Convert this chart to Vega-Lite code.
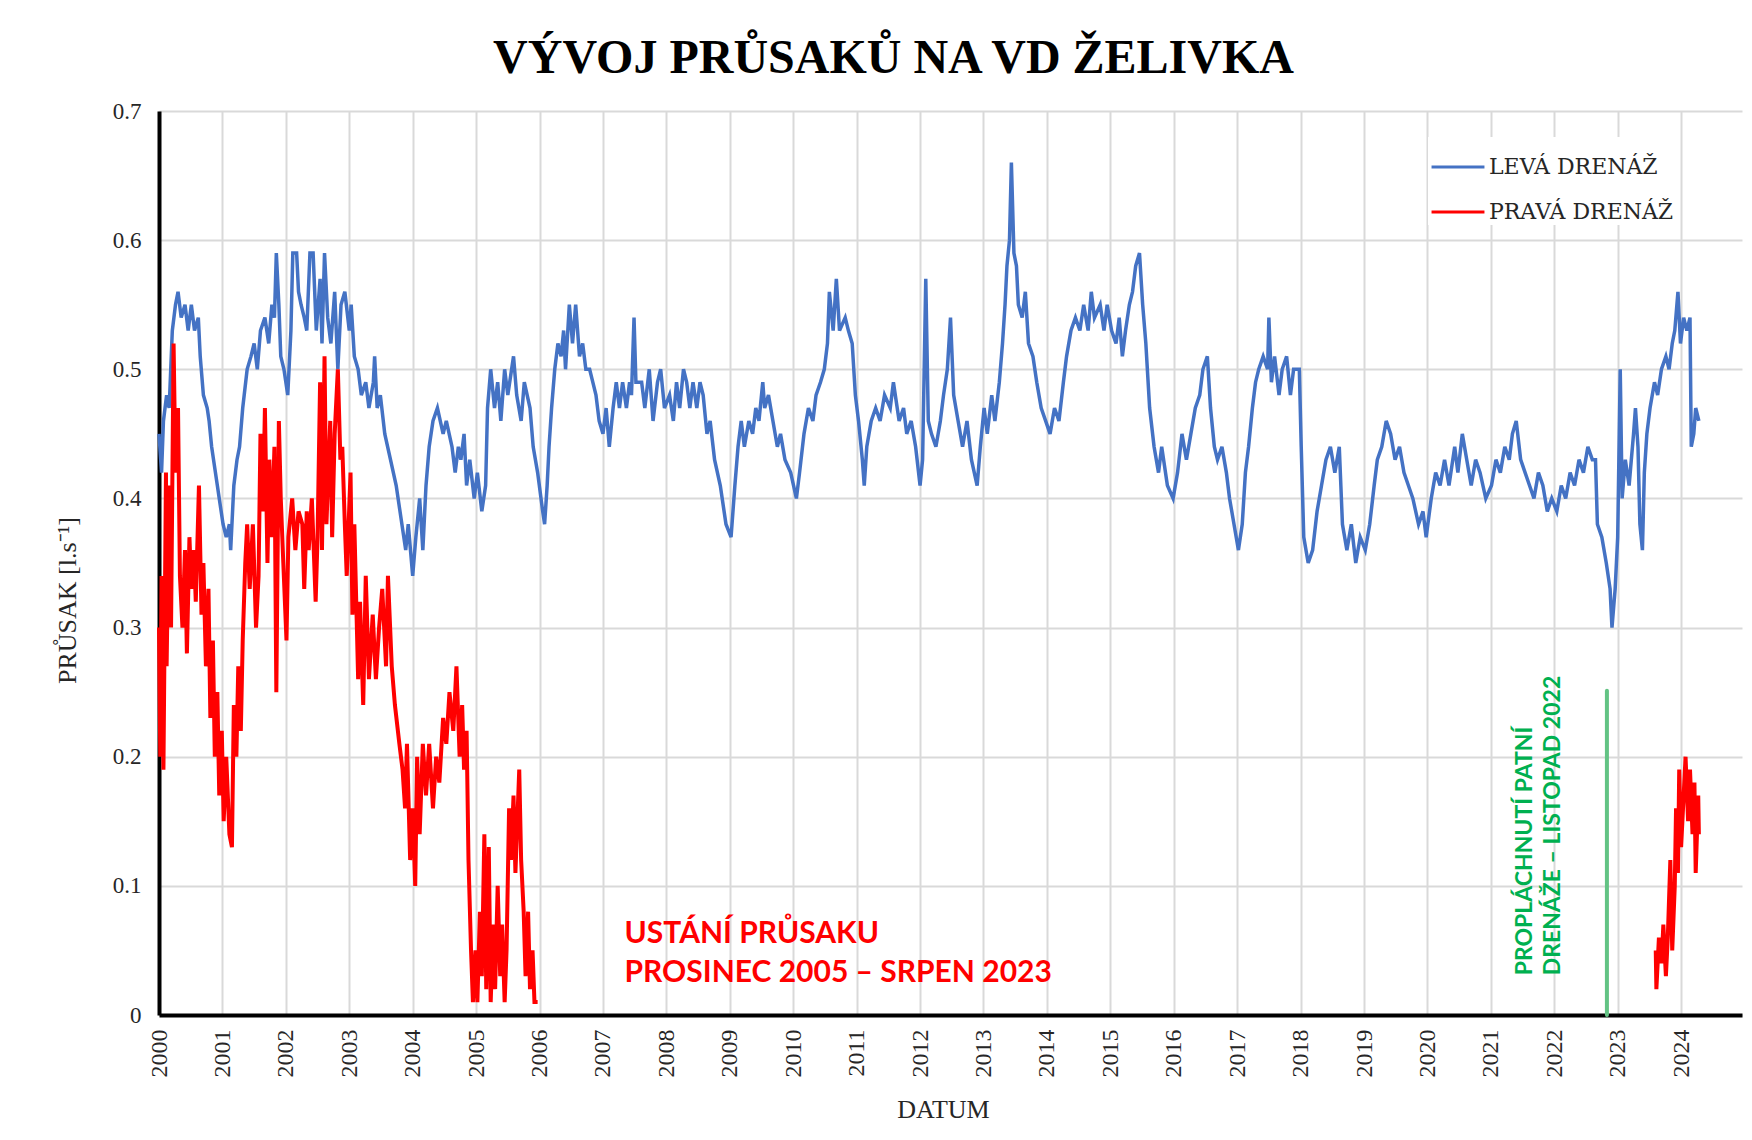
{
  "$schema": "https://vega.github.io/schema/vega-lite/v6.json",
  "autosize": {"type": "none"},
  "padding": {"left": 159, "top": 111, "right": 10, "bottom": 125},
  "width": 1583,
  "height": 904,
  "background": "white",
  "title": {
    "text": "VÝVOJ PRŮSAKŮ NA VD ŽELIVKA",
    "font": "Liberation Serif",
    "fontSize": 48,
    "fontWeight": "bold",
    "color": "#000000",
    "anchor": "middle",
    "frame": "group",
    "dx": -57,
    "offset": 17
  },
  "config": {
    "view": {"stroke": null},
    "axis": {
      "gridColor": "#d9d9d9",
      "gridWidth": 2,
      "domainColor": "#000000",
      "domainWidth": 4,
      "ticks": false,
      "labelFont": "Liberation Serif",
      "labelFontSize": 23,
      "labelColor": "#262626",
      "titleFont": "Liberation Serif",
      "titleFontSize": 26,
      "titleFontWeight": "normal",
      "titleColor": "#262626"
    }
  },
  "datasets": {
    "lev": [
      {"t":2000.00,"v":0.45,"s":"LEVÁ DRENÁŽ"},{"t":2000.04,"v":0.42,"s":"LEVÁ DRENÁŽ"},{"t":2000.07,"v":0.46,"s":"LEVÁ DRENÁŽ"},{"t":2000.12,"v":0.48,"s":"LEVÁ DRENÁŽ"},{"t":2000.16,"v":0.47,"s":"LEVÁ DRENÁŽ"},{"t":2000.21,"v":0.53,"s":"LEVÁ DRENÁŽ"},{"t":2000.26,"v":0.55,"s":"LEVÁ DRENÁŽ"},{"t":2000.30,"v":0.56,"s":"LEVÁ DRENÁŽ"},{"t":2000.35,"v":0.54,"s":"LEVÁ DRENÁŽ"},{"t":2000.41,"v":0.55,"s":"LEVÁ DRENÁŽ"},{"t":2000.46,"v":0.53,"s":"LEVÁ DRENÁŽ"},{"t":2000.51,"v":0.55,"s":"LEVÁ DRENÁŽ"},{"t":2000.56,"v":0.53,"s":"LEVÁ DRENÁŽ"},{"t":2000.62,"v":0.54,"s":"LEVÁ DRENÁŽ"},{"t":2000.65,"v":0.51,"s":"LEVÁ DRENÁŽ"},{"t":2000.70,"v":0.48,"s":"LEVÁ DRENÁŽ"},{"t":2000.76,"v":0.47,"s":"LEVÁ DRENÁŽ"},{"t":2000.79,"v":0.46,"s":"LEVÁ DRENÁŽ"},{"t":2000.83,"v":0.44,"s":"LEVÁ DRENÁŽ"},{"t":2000.86,"v":0.43,"s":"LEVÁ DRENÁŽ"},{"t":2000.92,"v":0.41,"s":"LEVÁ DRENÁŽ"},{"t":2000.95,"v":0.40,"s":"LEVÁ DRENÁŽ"},{"t":2001.01,"v":0.38,"s":"LEVÁ DRENÁŽ"},{"t":2001.06,"v":0.37,"s":"LEVÁ DRENÁŽ"},{"t":2001.11,"v":0.38,"s":"LEVÁ DRENÁŽ"},{"t":2001.13,"v":0.36,"s":"LEVÁ DRENÁŽ"},{"t":2001.18,"v":0.41,"s":"LEVÁ DRENÁŽ"},{"t":2001.23,"v":0.43,"s":"LEVÁ DRENÁŽ"},{"t":2001.27,"v":0.44,"s":"LEVÁ DRENÁŽ"},{"t":2001.32,"v":0.47,"s":"LEVÁ DRENÁŽ"},{"t":2001.39,"v":0.50,"s":"LEVÁ DRENÁŽ"},{"t":2001.45,"v":0.51,"s":"LEVÁ DRENÁŽ"},{"t":2001.50,"v":0.52,"s":"LEVÁ DRENÁŽ"},{"t":2001.55,"v":0.50,"s":"LEVÁ DRENÁŽ"},{"t":2001.60,"v":0.53,"s":"LEVÁ DRENÁŽ"},{"t":2001.67,"v":0.54,"s":"LEVÁ DRENÁŽ"},{"t":2001.73,"v":0.52,"s":"LEVÁ DRENÁŽ"},{"t":2001.78,"v":0.55,"s":"LEVÁ DRENÁŽ"},{"t":2001.82,"v":0.54,"s":"LEVÁ DRENÁŽ"},{"t":2001.85,"v":0.59,"s":"LEVÁ DRENÁŽ"},{"t":2001.89,"v":0.55,"s":"LEVÁ DRENÁŽ"},{"t":2001.92,"v":0.51,"s":"LEVÁ DRENÁŽ"},{"t":2001.97,"v":0.50,"s":"LEVÁ DRENÁŽ"},{"t":2002.03,"v":0.48,"s":"LEVÁ DRENÁŽ"},{"t":2002.08,"v":0.53,"s":"LEVÁ DRENÁŽ"},{"t":2002.11,"v":0.59,"s":"LEVÁ DRENÁŽ"},{"t":2002.17,"v":0.59,"s":"LEVÁ DRENÁŽ"},{"t":2002.20,"v":0.56,"s":"LEVÁ DRENÁŽ"},{"t":2002.24,"v":0.55,"s":"LEVÁ DRENÁŽ"},{"t":2002.29,"v":0.54,"s":"LEVÁ DRENÁŽ"},{"t":2002.33,"v":0.53,"s":"LEVÁ DRENÁŽ"},{"t":2002.38,"v":0.59,"s":"LEVÁ DRENÁŽ"},{"t":2002.43,"v":0.59,"s":"LEVÁ DRENÁŽ"},{"t":2002.48,"v":0.53,"s":"LEVÁ DRENÁŽ"},{"t":2002.54,"v":0.57,"s":"LEVÁ DRENÁŽ"},{"t":2002.57,"v":0.52,"s":"LEVÁ DRENÁŽ"},{"t":2002.61,"v":0.59,"s":"LEVÁ DRENÁŽ"},{"t":2002.66,"v":0.54,"s":"LEVÁ DRENÁŽ"},{"t":2002.71,"v":0.52,"s":"LEVÁ DRENÁŽ"},{"t":2002.77,"v":0.56,"s":"LEVÁ DRENÁŽ"},{"t":2002.82,"v":0.50,"s":"LEVÁ DRENÁŽ"},{"t":2002.87,"v":0.55,"s":"LEVÁ DRENÁŽ"},{"t":2002.93,"v":0.56,"s":"LEVÁ DRENÁŽ"},{"t":2003.00,"v":0.53,"s":"LEVÁ DRENÁŽ"},{"t":2003.03,"v":0.55,"s":"LEVÁ DRENÁŽ"},{"t":2003.08,"v":0.51,"s":"LEVÁ DRENÁŽ"},{"t":2003.14,"v":0.50,"s":"LEVÁ DRENÁŽ"},{"t":2003.19,"v":0.48,"s":"LEVÁ DRENÁŽ"},{"t":2003.26,"v":0.49,"s":"LEVÁ DRENÁŽ"},{"t":2003.31,"v":0.47,"s":"LEVÁ DRENÁŽ"},{"t":2003.38,"v":0.49,"s":"LEVÁ DRENÁŽ"},{"t":2003.40,"v":0.51,"s":"LEVÁ DRENÁŽ"},{"t":2003.44,"v":0.47,"s":"LEVÁ DRENÁŽ"},{"t":2003.49,"v":0.48,"s":"LEVÁ DRENÁŽ"},{"t":2003.56,"v":0.45,"s":"LEVÁ DRENÁŽ"},{"t":2003.65,"v":0.43,"s":"LEVÁ DRENÁŽ"},{"t":2003.74,"v":0.41,"s":"LEVÁ DRENÁŽ"},{"t":2003.83,"v":0.38,"s":"LEVÁ DRENÁŽ"},{"t":2003.89,"v":0.36,"s":"LEVÁ DRENÁŽ"},{"t":2003.93,"v":0.38,"s":"LEVÁ DRENÁŽ"},{"t":2004.00,"v":0.34,"s":"LEVÁ DRENÁŽ"},{"t":2004.05,"v":0.37,"s":"LEVÁ DRENÁŽ"},{"t":2004.11,"v":0.40,"s":"LEVÁ DRENÁŽ"},{"t":2004.16,"v":0.36,"s":"LEVÁ DRENÁŽ"},{"t":2004.21,"v":0.41,"s":"LEVÁ DRENÁŽ"},{"t":2004.26,"v":0.44,"s":"LEVÁ DRENÁŽ"},{"t":2004.32,"v":0.46,"s":"LEVÁ DRENÁŽ"},{"t":2004.39,"v":0.47,"s":"LEVÁ DRENÁŽ"},{"t":2004.48,"v":0.45,"s":"LEVÁ DRENÁŽ"},{"t":2004.53,"v":0.46,"s":"LEVÁ DRENÁŽ"},{"t":2004.62,"v":0.44,"s":"LEVÁ DRENÁŽ"},{"t":2004.67,"v":0.42,"s":"LEVÁ DRENÁŽ"},{"t":2004.72,"v":0.44,"s":"LEVÁ DRENÁŽ"},{"t":2004.76,"v":0.43,"s":"LEVÁ DRENÁŽ"},{"t":2004.81,"v":0.45,"s":"LEVÁ DRENÁŽ"},{"t":2004.85,"v":0.41,"s":"LEVÁ DRENÁŽ"},{"t":2004.90,"v":0.43,"s":"LEVÁ DRENÁŽ"},{"t":2004.97,"v":0.40,"s":"LEVÁ DRENÁŽ"},{"t":2005.02,"v":0.42,"s":"LEVÁ DRENÁŽ"},{"t":2005.09,"v":0.39,"s":"LEVÁ DRENÁŽ"},{"t":2005.15,"v":0.41,"s":"LEVÁ DRENÁŽ"},{"t":2005.18,"v":0.47,"s":"LEVÁ DRENÁŽ"},{"t":2005.23,"v":0.50,"s":"LEVÁ DRENÁŽ"},{"t":2005.29,"v":0.47,"s":"LEVÁ DRENÁŽ"},{"t":2005.34,"v":0.49,"s":"LEVÁ DRENÁŽ"},{"t":2005.39,"v":0.46,"s":"LEVÁ DRENÁŽ"},{"t":2005.45,"v":0.50,"s":"LEVÁ DRENÁŽ"},{"t":2005.50,"v":0.48,"s":"LEVÁ DRENÁŽ"},{"t":2005.59,"v":0.51,"s":"LEVÁ DRENÁŽ"},{"t":2005.64,"v":0.48,"s":"LEVÁ DRENÁŽ"},{"t":2005.71,"v":0.46,"s":"LEVÁ DRENÁŽ"},{"t":2005.76,"v":0.49,"s":"LEVÁ DRENÁŽ"},{"t":2005.85,"v":0.47,"s":"LEVÁ DRENÁŽ"},{"t":2005.90,"v":0.44,"s":"LEVÁ DRENÁŽ"},{"t":2005.97,"v":0.42,"s":"LEVÁ DRENÁŽ"},{"t":2006.05,"v":0.39,"s":"LEVÁ DRENÁŽ"},{"t":2006.08,"v":0.38,"s":"LEVÁ DRENÁŽ"},{"t":2006.12,"v":0.41,"s":"LEVÁ DRENÁŽ"},{"t":2006.15,"v":0.44,"s":"LEVÁ DRENÁŽ"},{"t":2006.19,"v":0.47,"s":"LEVÁ DRENÁŽ"},{"t":2006.24,"v":0.50,"s":"LEVÁ DRENÁŽ"},{"t":2006.29,"v":0.52,"s":"LEVÁ DRENÁŽ"},{"t":2006.34,"v":0.51,"s":"LEVÁ DRENÁŽ"},{"t":2006.38,"v":0.53,"s":"LEVÁ DRENÁŽ"},{"t":2006.41,"v":0.50,"s":"LEVÁ DRENÁŽ"},{"t":2006.47,"v":0.55,"s":"LEVÁ DRENÁŽ"},{"t":2006.52,"v":0.52,"s":"LEVÁ DRENÁŽ"},{"t":2006.57,"v":0.55,"s":"LEVÁ DRENÁŽ"},{"t":2006.63,"v":0.51,"s":"LEVÁ DRENÁŽ"},{"t":2006.68,"v":0.52,"s":"LEVÁ DRENÁŽ"},{"t":2006.73,"v":0.50,"s":"LEVÁ DRENÁŽ"},{"t":2006.79,"v":0.50,"s":"LEVÁ DRENÁŽ"},{"t":2006.84,"v":0.49,"s":"LEVÁ DRENÁŽ"},{"t":2006.89,"v":0.48,"s":"LEVÁ DRENÁŽ"},{"t":2006.94,"v":0.46,"s":"LEVÁ DRENÁŽ"},{"t":2007.00,"v":0.45,"s":"LEVÁ DRENÁŽ"},{"t":2007.05,"v":0.47,"s":"LEVÁ DRENÁŽ"},{"t":2007.10,"v":0.44,"s":"LEVÁ DRENÁŽ"},{"t":2007.16,"v":0.47,"s":"LEVÁ DRENÁŽ"},{"t":2007.21,"v":0.49,"s":"LEVÁ DRENÁŽ"},{"t":2007.26,"v":0.47,"s":"LEVÁ DRENÁŽ"},{"t":2007.31,"v":0.49,"s":"LEVÁ DRENÁŽ"},{"t":2007.37,"v":0.47,"s":"LEVÁ DRENÁŽ"},{"t":2007.42,"v":0.49,"s":"LEVÁ DRENÁŽ"},{"t":2007.45,"v":0.48,"s":"LEVÁ DRENÁŽ"},{"t":2007.49,"v":0.54,"s":"LEVÁ DRENÁŽ"},{"t":2007.52,"v":0.49,"s":"LEVÁ DRENÁŽ"},{"t":2007.61,"v":0.49,"s":"LEVÁ DRENÁŽ"},{"t":2007.66,"v":0.47,"s":"LEVÁ DRENÁŽ"},{"t":2007.73,"v":0.50,"s":"LEVÁ DRENÁŽ"},{"t":2007.79,"v":0.46,"s":"LEVÁ DRENÁŽ"},{"t":2007.86,"v":0.49,"s":"LEVÁ DRENÁŽ"},{"t":2007.91,"v":0.50,"s":"LEVÁ DRENÁŽ"},{"t":2007.97,"v":0.47,"s":"LEVÁ DRENÁŽ"},{"t":2008.05,"v":0.48,"s":"LEVÁ DRENÁŽ"},{"t":2008.11,"v":0.46,"s":"LEVÁ DRENÁŽ"},{"t":2008.16,"v":0.49,"s":"LEVÁ DRENÁŽ"},{"t":2008.21,"v":0.47,"s":"LEVÁ DRENÁŽ"},{"t":2008.27,"v":0.50,"s":"LEVÁ DRENÁŽ"},{"t":2008.32,"v":0.49,"s":"LEVÁ DRENÁŽ"},{"t":2008.37,"v":0.47,"s":"LEVÁ DRENÁŽ"},{"t":2008.42,"v":0.49,"s":"LEVÁ DRENÁŽ"},{"t":2008.48,"v":0.47,"s":"LEVÁ DRENÁŽ"},{"t":2008.53,"v":0.49,"s":"LEVÁ DRENÁŽ"},{"t":2008.58,"v":0.48,"s":"LEVÁ DRENÁŽ"},{"t":2008.64,"v":0.45,"s":"LEVÁ DRENÁŽ"},{"t":2008.69,"v":0.46,"s":"LEVÁ DRENÁŽ"},{"t":2008.76,"v":0.43,"s":"LEVÁ DRENÁŽ"},{"t":2008.85,"v":0.41,"s":"LEVÁ DRENÁŽ"},{"t":2008.94,"v":0.38,"s":"LEVÁ DRENÁŽ"},{"t":2009.02,"v":0.37,"s":"LEVÁ DRENÁŽ"},{"t":2009.08,"v":0.41,"s":"LEVÁ DRENÁŽ"},{"t":2009.13,"v":0.44,"s":"LEVÁ DRENÁŽ"},{"t":2009.18,"v":0.46,"s":"LEVÁ DRENÁŽ"},{"t":2009.23,"v":0.44,"s":"LEVÁ DRENÁŽ"},{"t":2009.30,"v":0.46,"s":"LEVÁ DRENÁŽ"},{"t":2009.36,"v":0.45,"s":"LEVÁ DRENÁŽ"},{"t":2009.41,"v":0.47,"s":"LEVÁ DRENÁŽ"},{"t":2009.46,"v":0.46,"s":"LEVÁ DRENÁŽ"},{"t":2009.52,"v":0.49,"s":"LEVÁ DRENÁŽ"},{"t":2009.55,"v":0.47,"s":"LEVÁ DRENÁŽ"},{"t":2009.61,"v":0.48,"s":"LEVÁ DRENÁŽ"},{"t":2009.68,"v":0.46,"s":"LEVÁ DRENÁŽ"},{"t":2009.75,"v":0.44,"s":"LEVÁ DRENÁŽ"},{"t":2009.80,"v":0.45,"s":"LEVÁ DRENÁŽ"},{"t":2009.87,"v":0.43,"s":"LEVÁ DRENÁŽ"},{"t":2009.96,"v":0.42,"s":"LEVÁ DRENÁŽ"},{"t":2010.05,"v":0.40,"s":"LEVÁ DRENÁŽ"},{"t":2010.10,"v":0.42,"s":"LEVÁ DRENÁŽ"},{"t":2010.17,"v":0.45,"s":"LEVÁ DRENÁŽ"},{"t":2010.24,"v":0.47,"s":"LEVÁ DRENÁŽ"},{"t":2010.31,"v":0.46,"s":"LEVÁ DRENÁŽ"},{"t":2010.36,"v":0.48,"s":"LEVÁ DRENÁŽ"},{"t":2010.43,"v":0.49,"s":"LEVÁ DRENÁŽ"},{"t":2010.49,"v":0.50,"s":"LEVÁ DRENÁŽ"},{"t":2010.54,"v":0.52,"s":"LEVÁ DRENÁŽ"},{"t":2010.57,"v":0.56,"s":"LEVÁ DRENÁŽ"},{"t":2010.63,"v":0.53,"s":"LEVÁ DRENÁŽ"},{"t":2010.68,"v":0.57,"s":"LEVÁ DRENÁŽ"},{"t":2010.73,"v":0.53,"s":"LEVÁ DRENÁŽ"},{"t":2010.82,"v":0.54,"s":"LEVÁ DRENÁŽ"},{"t":2010.87,"v":0.53,"s":"LEVÁ DRENÁŽ"},{"t":2010.93,"v":0.52,"s":"LEVÁ DRENÁŽ"},{"t":2010.98,"v":0.48,"s":"LEVÁ DRENÁŽ"},{"t":2011.03,"v":0.46,"s":"LEVÁ DRENÁŽ"},{"t":2011.09,"v":0.43,"s":"LEVÁ DRENÁŽ"},{"t":2011.12,"v":0.41,"s":"LEVÁ DRENÁŽ"},{"t":2011.16,"v":0.44,"s":"LEVÁ DRENÁŽ"},{"t":2011.23,"v":0.46,"s":"LEVÁ DRENÁŽ"},{"t":2011.30,"v":0.47,"s":"LEVÁ DRENÁŽ"},{"t":2011.37,"v":0.46,"s":"LEVÁ DRENÁŽ"},{"t":2011.44,"v":0.48,"s":"LEVÁ DRENÁŽ"},{"t":2011.53,"v":0.47,"s":"LEVÁ DRENÁŽ"},{"t":2011.58,"v":0.49,"s":"LEVÁ DRENÁŽ"},{"t":2011.67,"v":0.46,"s":"LEVÁ DRENÁŽ"},{"t":2011.74,"v":0.47,"s":"LEVÁ DRENÁŽ"},{"t":2011.79,"v":0.45,"s":"LEVÁ DRENÁŽ"},{"t":2011.86,"v":0.46,"s":"LEVÁ DRENÁŽ"},{"t":2011.93,"v":0.44,"s":"LEVÁ DRENÁŽ"},{"t":2012.00,"v":0.41,"s":"LEVÁ DRENÁŽ"},{"t":2012.04,"v":0.43,"s":"LEVÁ DRENÁŽ"},{"t":2012.09,"v":0.57,"s":"LEVÁ DRENÁŽ"},{"t":2012.13,"v":0.46,"s":"LEVÁ DRENÁŽ"},{"t":2012.18,"v":0.45,"s":"LEVÁ DRENÁŽ"},{"t":2012.25,"v":0.44,"s":"LEVÁ DRENÁŽ"},{"t":2012.32,"v":0.46,"s":"LEVÁ DRENÁŽ"},{"t":2012.37,"v":0.48,"s":"LEVÁ DRENÁŽ"},{"t":2012.43,"v":0.50,"s":"LEVÁ DRENÁŽ"},{"t":2012.48,"v":0.54,"s":"LEVÁ DRENÁŽ"},{"t":2012.53,"v":0.48,"s":"LEVÁ DRENÁŽ"},{"t":2012.60,"v":0.46,"s":"LEVÁ DRENÁŽ"},{"t":2012.67,"v":0.44,"s":"LEVÁ DRENÁŽ"},{"t":2012.74,"v":0.46,"s":"LEVÁ DRENÁŽ"},{"t":2012.81,"v":0.43,"s":"LEVÁ DRENÁŽ"},{"t":2012.90,"v":0.41,"s":"LEVÁ DRENÁŽ"},{"t":2012.95,"v":0.44,"s":"LEVÁ DRENÁŽ"},{"t":2013.01,"v":0.47,"s":"LEVÁ DRENÁŽ"},{"t":2013.06,"v":0.45,"s":"LEVÁ DRENÁŽ"},{"t":2013.13,"v":0.48,"s":"LEVÁ DRENÁŽ"},{"t":2013.18,"v":0.46,"s":"LEVÁ DRENÁŽ"},{"t":2013.25,"v":0.49,"s":"LEVÁ DRENÁŽ"},{"t":2013.30,"v":0.52,"s":"LEVÁ DRENÁŽ"},{"t":2013.34,"v":0.55,"s":"LEVÁ DRENÁŽ"},{"t":2013.37,"v":0.58,"s":"LEVÁ DRENÁŽ"},{"t":2013.41,"v":0.60,"s":"LEVÁ DRENÁŽ"},{"t":2013.44,"v":0.66,"s":"LEVÁ DRENÁŽ"},{"t":2013.48,"v":0.59,"s":"LEVÁ DRENÁŽ"},{"t":2013.52,"v":0.58,"s":"LEVÁ DRENÁŽ"},{"t":2013.55,"v":0.55,"s":"LEVÁ DRENÁŽ"},{"t":2013.61,"v":0.54,"s":"LEVÁ DRENÁŽ"},{"t":2013.66,"v":0.56,"s":"LEVÁ DRENÁŽ"},{"t":2013.71,"v":0.52,"s":"LEVÁ DRENÁŽ"},{"t":2013.78,"v":0.51,"s":"LEVÁ DRENÁŽ"},{"t":2013.84,"v":0.49,"s":"LEVÁ DRENÁŽ"},{"t":2013.91,"v":0.47,"s":"LEVÁ DRENÁŽ"},{"t":2013.98,"v":0.46,"s":"LEVÁ DRENÁŽ"},{"t":2014.05,"v":0.45,"s":"LEVÁ DRENÁŽ"},{"t":2014.12,"v":0.47,"s":"LEVÁ DRENÁŽ"},{"t":2014.19,"v":0.46,"s":"LEVÁ DRENÁŽ"},{"t":2014.26,"v":0.49,"s":"LEVÁ DRENÁŽ"},{"t":2014.31,"v":0.51,"s":"LEVÁ DRENÁŽ"},{"t":2014.38,"v":0.53,"s":"LEVÁ DRENÁŽ"},{"t":2014.45,"v":0.54,"s":"LEVÁ DRENÁŽ"},{"t":2014.52,"v":0.53,"s":"LEVÁ DRENÁŽ"},{"t":2014.58,"v":0.55,"s":"LEVÁ DRENÁŽ"},{"t":2014.65,"v":0.53,"s":"LEVÁ DRENÁŽ"},{"t":2014.70,"v":0.56,"s":"LEVÁ DRENÁŽ"},{"t":2014.75,"v":0.54,"s":"LEVÁ DRENÁŽ"},{"t":2014.84,"v":0.55,"s":"LEVÁ DRENÁŽ"},{"t":2014.90,"v":0.53,"s":"LEVÁ DRENÁŽ"},{"t":2014.95,"v":0.55,"s":"LEVÁ DRENÁŽ"},{"t":2015.02,"v":0.53,"s":"LEVÁ DRENÁŽ"},{"t":2015.09,"v":0.52,"s":"LEVÁ DRENÁŽ"},{"t":2015.14,"v":0.54,"s":"LEVÁ DRENÁŽ"},{"t":2015.19,"v":0.51,"s":"LEVÁ DRENÁŽ"},{"t":2015.24,"v":0.53,"s":"LEVÁ DRENÁŽ"},{"t":2015.30,"v":0.55,"s":"LEVÁ DRENÁŽ"},{"t":2015.35,"v":0.56,"s":"LEVÁ DRENÁŽ"},{"t":2015.40,"v":0.58,"s":"LEVÁ DRENÁŽ"},{"t":2015.46,"v":0.59,"s":"LEVÁ DRENÁŽ"},{"t":2015.51,"v":0.55,"s":"LEVÁ DRENÁŽ"},{"t":2015.56,"v":0.52,"s":"LEVÁ DRENÁŽ"},{"t":2015.62,"v":0.47,"s":"LEVÁ DRENÁŽ"},{"t":2015.69,"v":0.44,"s":"LEVÁ DRENÁŽ"},{"t":2015.76,"v":0.42,"s":"LEVÁ DRENÁŽ"},{"t":2015.81,"v":0.44,"s":"LEVÁ DRENÁŽ"},{"t":2015.90,"v":0.41,"s":"LEVÁ DRENÁŽ"},{"t":2015.99,"v":0.40,"s":"LEVÁ DRENÁŽ"},{"t":2016.06,"v":0.42,"s":"LEVÁ DRENÁŽ"},{"t":2016.13,"v":0.45,"s":"LEVÁ DRENÁŽ"},{"t":2016.20,"v":0.43,"s":"LEVÁ DRENÁŽ"},{"t":2016.27,"v":0.45,"s":"LEVÁ DRENÁŽ"},{"t":2016.34,"v":0.47,"s":"LEVÁ DRENÁŽ"},{"t":2016.41,"v":0.48,"s":"LEVÁ DRENÁŽ"},{"t":2016.46,"v":0.50,"s":"LEVÁ DRENÁŽ"},{"t":2016.53,"v":0.51,"s":"LEVÁ DRENÁŽ"},{"t":2016.58,"v":0.47,"s":"LEVÁ DRENÁŽ"},{"t":2016.64,"v":0.44,"s":"LEVÁ DRENÁŽ"},{"t":2016.69,"v":0.43,"s":"LEVÁ DRENÁŽ"},{"t":2016.76,"v":0.44,"s":"LEVÁ DRENÁŽ"},{"t":2016.83,"v":0.42,"s":"LEVÁ DRENÁŽ"},{"t":2016.88,"v":0.40,"s":"LEVÁ DRENÁŽ"},{"t":2016.95,"v":0.38,"s":"LEVÁ DRENÁŽ"},{"t":2017.02,"v":0.36,"s":"LEVÁ DRENÁŽ"},{"t":2017.08,"v":0.38,"s":"LEVÁ DRENÁŽ"},{"t":2017.13,"v":0.42,"s":"LEVÁ DRENÁŽ"},{"t":2017.18,"v":0.44,"s":"LEVÁ DRENÁŽ"},{"t":2017.24,"v":0.47,"s":"LEVÁ DRENÁŽ"},{"t":2017.29,"v":0.49,"s":"LEVÁ DRENÁŽ"},{"t":2017.34,"v":0.50,"s":"LEVÁ DRENÁŽ"},{"t":2017.41,"v":0.51,"s":"LEVÁ DRENÁŽ"},{"t":2017.48,"v":0.50,"s":"LEVÁ DRENÁŽ"},{"t":2017.50,"v":0.54,"s":"LEVÁ DRENÁŽ"},{"t":2017.54,"v":0.49,"s":"LEVÁ DRENÁŽ"},{"t":2017.59,"v":0.51,"s":"LEVÁ DRENÁŽ"},{"t":2017.66,"v":0.48,"s":"LEVÁ DRENÁŽ"},{"t":2017.71,"v":0.50,"s":"LEVÁ DRENÁŽ"},{"t":2017.78,"v":0.51,"s":"LEVÁ DRENÁŽ"},{"t":2017.84,"v":0.48,"s":"LEVÁ DRENÁŽ"},{"t":2017.89,"v":0.50,"s":"LEVÁ DRENÁŽ"},{"t":2017.98,"v":0.50,"s":"LEVÁ DRENÁŽ"},{"t":2018.01,"v":0.44,"s":"LEVÁ DRENÁŽ"},{"t":2018.05,"v":0.37,"s":"LEVÁ DRENÁŽ"},{"t":2018.12,"v":0.35,"s":"LEVÁ DRENÁŽ"},{"t":2018.19,"v":0.36,"s":"LEVÁ DRENÁŽ"},{"t":2018.26,"v":0.39,"s":"LEVÁ DRENÁŽ"},{"t":2018.33,"v":0.41,"s":"LEVÁ DRENÁŽ"},{"t":2018.40,"v":0.43,"s":"LEVÁ DRENÁŽ"},{"t":2018.47,"v":0.44,"s":"LEVÁ DRENÁŽ"},{"t":2018.54,"v":0.42,"s":"LEVÁ DRENÁŽ"},{"t":2018.61,"v":0.44,"s":"LEVÁ DRENÁŽ"},{"t":2018.66,"v":0.38,"s":"LEVÁ DRENÁŽ"},{"t":2018.73,"v":0.36,"s":"LEVÁ DRENÁŽ"},{"t":2018.80,"v":0.38,"s":"LEVÁ DRENÁŽ"},{"t":2018.87,"v":0.35,"s":"LEVÁ DRENÁŽ"},{"t":2018.94,"v":0.37,"s":"LEVÁ DRENÁŽ"},{"t":2019.02,"v":0.36,"s":"LEVÁ DRENÁŽ"},{"t":2019.09,"v":0.38,"s":"LEVÁ DRENÁŽ"},{"t":2019.16,"v":0.41,"s":"LEVÁ DRENÁŽ"},{"t":2019.21,"v":0.43,"s":"LEVÁ DRENÁŽ"},{"t":2019.28,"v":0.44,"s":"LEVÁ DRENÁŽ"},{"t":2019.35,"v":0.46,"s":"LEVÁ DRENÁŽ"},{"t":2019.42,"v":0.45,"s":"LEVÁ DRENÁŽ"},{"t":2019.49,"v":0.43,"s":"LEVÁ DRENÁŽ"},{"t":2019.56,"v":0.44,"s":"LEVÁ DRENÁŽ"},{"t":2019.63,"v":0.42,"s":"LEVÁ DRENÁŽ"},{"t":2019.70,"v":0.41,"s":"LEVÁ DRENÁŽ"},{"t":2019.77,"v":0.40,"s":"LEVÁ DRENÁŽ"},{"t":2019.86,"v":0.38,"s":"LEVÁ DRENÁŽ"},{"t":2019.93,"v":0.39,"s":"LEVÁ DRENÁŽ"},{"t":2019.98,"v":0.37,"s":"LEVÁ DRENÁŽ"},{"t":2020.06,"v":0.40,"s":"LEVÁ DRENÁŽ"},{"t":2020.13,"v":0.42,"s":"LEVÁ DRENÁŽ"},{"t":2020.20,"v":0.41,"s":"LEVÁ DRENÁŽ"},{"t":2020.27,"v":0.43,"s":"LEVÁ DRENÁŽ"},{"t":2020.34,"v":0.41,"s":"LEVÁ DRENÁŽ"},{"t":2020.43,"v":0.44,"s":"LEVÁ DRENÁŽ"},{"t":2020.48,"v":0.42,"s":"LEVÁ DRENÁŽ"},{"t":2020.55,"v":0.45,"s":"LEVÁ DRENÁŽ"},{"t":2020.62,"v":0.43,"s":"LEVÁ DRENÁŽ"},{"t":2020.69,"v":0.41,"s":"LEVÁ DRENÁŽ"},{"t":2020.76,"v":0.43,"s":"LEVÁ DRENÁŽ"},{"t":2020.83,"v":0.42,"s":"LEVÁ DRENÁŽ"},{"t":2020.92,"v":0.40,"s":"LEVÁ DRENÁŽ"},{"t":2021.01,"v":0.41,"s":"LEVÁ DRENÁŽ"},{"t":2021.08,"v":0.43,"s":"LEVÁ DRENÁŽ"},{"t":2021.15,"v":0.42,"s":"LEVÁ DRENÁŽ"},{"t":2021.22,"v":0.44,"s":"LEVÁ DRENÁŽ"},{"t":2021.29,"v":0.43,"s":"LEVÁ DRENÁŽ"},{"t":2021.34,"v":0.45,"s":"LEVÁ DRENÁŽ"},{"t":2021.40,"v":0.46,"s":"LEVÁ DRENÁŽ"},{"t":2021.47,"v":0.43,"s":"LEVÁ DRENÁŽ"},{"t":2021.54,"v":0.42,"s":"LEVÁ DRENÁŽ"},{"t":2021.61,"v":0.41,"s":"LEVÁ DRENÁŽ"},{"t":2021.68,"v":0.40,"s":"LEVÁ DRENÁŽ"},{"t":2021.75,"v":0.42,"s":"LEVÁ DRENÁŽ"},{"t":2021.82,"v":0.41,"s":"LEVÁ DRENÁŽ"},{"t":2021.89,"v":0.39,"s":"LEVÁ DRENÁŽ"},{"t":2021.96,"v":0.40,"s":"LEVÁ DRENÁŽ"},{"t":2022.04,"v":0.39,"s":"LEVÁ DRENÁŽ"},{"t":2022.11,"v":0.41,"s":"LEVÁ DRENÁŽ"},{"t":2022.18,"v":0.40,"s":"LEVÁ DRENÁŽ"},{"t":2022.25,"v":0.42,"s":"LEVÁ DRENÁŽ"},{"t":2022.32,"v":0.41,"s":"LEVÁ DRENÁŽ"},{"t":2022.39,"v":0.43,"s":"LEVÁ DRENÁŽ"},{"t":2022.46,"v":0.42,"s":"LEVÁ DRENÁŽ"},{"t":2022.53,"v":0.44,"s":"LEVÁ DRENÁŽ"},{"t":2022.60,"v":0.43,"s":"LEVÁ DRENÁŽ"},{"t":2022.65,"v":0.43,"s":"LEVÁ DRENÁŽ"},{"t":2022.68,"v":0.38,"s":"LEVÁ DRENÁŽ"},{"t":2022.75,"v":0.37,"s":"LEVÁ DRENÁŽ"},{"t":2022.82,"v":0.35,"s":"LEVÁ DRENÁŽ"},{"t":2022.88,"v":0.33,"s":"LEVÁ DRENÁŽ"},{"t":2022.91,"v":0.30,"s":"LEVÁ DRENÁŽ"},{"t":2022.96,"v":0.33,"s":"LEVÁ DRENÁŽ"},{"t":2023.00,"v":0.37,"s":"LEVÁ DRENÁŽ"},{"t":2023.04,"v":0.50,"s":"LEVÁ DRENÁŽ"},{"t":2023.07,"v":0.40,"s":"LEVÁ DRENÁŽ"},{"t":2023.12,"v":0.43,"s":"LEVÁ DRENÁŽ"},{"t":2023.18,"v":0.41,"s":"LEVÁ DRENÁŽ"},{"t":2023.25,"v":0.45,"s":"LEVÁ DRENÁŽ"},{"t":2023.28,"v":0.47,"s":"LEVÁ DRENÁŽ"},{"t":2023.32,"v":0.44,"s":"LEVÁ DRENÁŽ"},{"t":2023.35,"v":0.38,"s":"LEVÁ DRENÁŽ"},{"t":2023.39,"v":0.36,"s":"LEVÁ DRENÁŽ"},{"t":2023.42,"v":0.42,"s":"LEVÁ DRENÁŽ"},{"t":2023.46,"v":0.45,"s":"LEVÁ DRENÁŽ"},{"t":2023.51,"v":0.47,"s":"LEVÁ DRENÁŽ"},{"t":2023.58,"v":0.49,"s":"LEVÁ DRENÁŽ"},{"t":2023.63,"v":0.48,"s":"LEVÁ DRENÁŽ"},{"t":2023.69,"v":0.50,"s":"LEVÁ DRENÁŽ"},{"t":2023.76,"v":0.51,"s":"LEVÁ DRENÁŽ"},{"t":2023.81,"v":0.50,"s":"LEVÁ DRENÁŽ"},{"t":2023.86,"v":0.52,"s":"LEVÁ DRENÁŽ"},{"t":2023.90,"v":0.53,"s":"LEVÁ DRENÁŽ"},{"t":2023.95,"v":0.56,"s":"LEVÁ DRENÁŽ"},{"t":2023.99,"v":0.52,"s":"LEVÁ DRENÁŽ"},{"t":2024.04,"v":0.54,"s":"LEVÁ DRENÁŽ"},{"t":2024.09,"v":0.53,"s":"LEVÁ DRENÁŽ"},{"t":2024.14,"v":0.54,"s":"LEVÁ DRENÁŽ"},{"t":2024.16,"v":0.44,"s":"LEVÁ DRENÁŽ"},{"t":2024.20,"v":0.45,"s":"LEVÁ DRENÁŽ"},{"t":2024.23,"v":0.47,"s":"LEVÁ DRENÁŽ"},{"t":2024.28,"v":0.46,"s":"LEVÁ DRENÁŽ"}
    ],
    "pra": [
      {"t":2000.00,"v":0.30,"s":"PRAVÁ DRENÁŽ","g":1},{"t":2000.02,"v":0.20,"s":"PRAVÁ DRENÁŽ","g":1},{"t":2000.04,"v":0.34,"s":"PRAVÁ DRENÁŽ","g":1},{"t":2000.07,"v":0.19,"s":"PRAVÁ DRENÁŽ","g":1},{"t":2000.11,"v":0.42,"s":"PRAVÁ DRENÁŽ","g":1},{"t":2000.12,"v":0.27,"s":"PRAVÁ DRENÁŽ","g":1},{"t":2000.16,"v":0.41,"s":"PRAVÁ DRENÁŽ","g":1},{"t":2000.19,"v":0.30,"s":"PRAVÁ DRENÁŽ","g":1},{"t":2000.23,"v":0.52,"s":"PRAVÁ DRENÁŽ","g":1},{"t":2000.26,"v":0.42,"s":"PRAVÁ DRENÁŽ","g":1},{"t":2000.30,"v":0.47,"s":"PRAVÁ DRENÁŽ","g":1},{"t":2000.33,"v":0.34,"s":"PRAVÁ DRENÁŽ","g":1},{"t":2000.37,"v":0.30,"s":"PRAVÁ DRENÁŽ","g":1},{"t":2000.41,"v":0.36,"s":"PRAVÁ DRENÁŽ","g":1},{"t":2000.44,"v":0.28,"s":"PRAVÁ DRENÁŽ","g":1},{"t":2000.48,"v":0.37,"s":"PRAVÁ DRENÁŽ","g":1},{"t":2000.51,"v":0.33,"s":"PRAVÁ DRENÁŽ","g":1},{"t":2000.55,"v":0.36,"s":"PRAVÁ DRENÁŽ","g":1},{"t":2000.58,"v":0.32,"s":"PRAVÁ DRENÁŽ","g":1},{"t":2000.63,"v":0.41,"s":"PRAVÁ DRENÁŽ","g":1},{"t":2000.67,"v":0.31,"s":"PRAVÁ DRENÁŽ","g":1},{"t":2000.70,"v":0.35,"s":"PRAVÁ DRENÁŽ","g":1},{"t":2000.74,"v":0.27,"s":"PRAVÁ DRENÁŽ","g":1},{"t":2000.78,"v":0.33,"s":"PRAVÁ DRENÁŽ","g":1},{"t":2000.81,"v":0.23,"s":"PRAVÁ DRENÁŽ","g":1},{"t":2000.85,"v":0.29,"s":"PRAVÁ DRENÁŽ","g":1},{"t":2000.88,"v":0.20,"s":"PRAVÁ DRENÁŽ","g":1},{"t":2000.92,"v":0.25,"s":"PRAVÁ DRENÁŽ","g":1},{"t":2000.95,"v":0.17,"s":"PRAVÁ DRENÁŽ","g":1},{"t":2000.99,"v":0.22,"s":"PRAVÁ DRENÁŽ","g":1},{"t":2001.02,"v":0.15,"s":"PRAVÁ DRENÁŽ","g":1},{"t":2001.06,"v":0.20,"s":"PRAVÁ DRENÁŽ","g":1},{"t":2001.11,"v":0.14,"s":"PRAVÁ DRENÁŽ","g":1},{"t":2001.15,"v":0.13,"s":"PRAVÁ DRENÁŽ","g":1},{"t":2001.18,"v":0.24,"s":"PRAVÁ DRENÁŽ","g":1},{"t":2001.22,"v":0.20,"s":"PRAVÁ DRENÁŽ","g":1},{"t":2001.25,"v":0.27,"s":"PRAVÁ DRENÁŽ","g":1},{"t":2001.29,"v":0.22,"s":"PRAVÁ DRENÁŽ","g":1},{"t":2001.32,"v":0.29,"s":"PRAVÁ DRENÁŽ","g":1},{"t":2001.36,"v":0.35,"s":"PRAVÁ DRENÁŽ","g":1},{"t":2001.39,"v":0.38,"s":"PRAVÁ DRENÁŽ","g":1},{"t":2001.43,"v":0.33,"s":"PRAVÁ DRENÁŽ","g":1},{"t":2001.48,"v":0.38,"s":"PRAVÁ DRENÁŽ","g":1},{"t":2001.53,"v":0.30,"s":"PRAVÁ DRENÁŽ","g":1},{"t":2001.57,"v":0.34,"s":"PRAVÁ DRENÁŽ","g":1},{"t":2001.60,"v":0.45,"s":"PRAVÁ DRENÁŽ","g":1},{"t":2001.64,"v":0.39,"s":"PRAVÁ DRENÁŽ","g":1},{"t":2001.67,"v":0.47,"s":"PRAVÁ DRENÁŽ","g":1},{"t":2001.71,"v":0.35,"s":"PRAVÁ DRENÁŽ","g":1},{"t":2001.74,"v":0.43,"s":"PRAVÁ DRENÁŽ","g":1},{"t":2001.78,"v":0.37,"s":"PRAVÁ DRENÁŽ","g":1},{"t":2001.82,"v":0.44,"s":"PRAVÁ DRENÁŽ","g":1},{"t":2001.85,"v":0.25,"s":"PRAVÁ DRENÁŽ","g":1},{"t":2001.89,"v":0.46,"s":"PRAVÁ DRENÁŽ","g":1},{"t":2001.92,"v":0.40,"s":"PRAVÁ DRENÁŽ","g":1},{"t":2001.96,"v":0.35,"s":"PRAVÁ DRENÁŽ","g":1},{"t":2002.01,"v":0.29,"s":"PRAVÁ DRENÁŽ","g":1},{"t":2002.04,"v":0.37,"s":"PRAVÁ DRENÁŽ","g":1},{"t":2002.10,"v":0.40,"s":"PRAVÁ DRENÁŽ","g":1},{"t":2002.15,"v":0.36,"s":"PRAVÁ DRENÁŽ","g":1},{"t":2002.20,"v":0.39,"s":"PRAVÁ DRENÁŽ","g":1},{"t":2002.26,"v":0.38,"s":"PRAVÁ DRENÁŽ","g":1},{"t":2002.29,"v":0.33,"s":"PRAVÁ DRENÁŽ","g":1},{"t":2002.33,"v":0.39,"s":"PRAVÁ DRENÁŽ","g":1},{"t":2002.36,"v":0.36,"s":"PRAVÁ DRENÁŽ","g":1},{"t":2002.41,"v":0.40,"s":"PRAVÁ DRENÁŽ","g":1},{"t":2002.47,"v":0.32,"s":"PRAVÁ DRENÁŽ","g":1},{"t":2002.50,"v":0.37,"s":"PRAVÁ DRENÁŽ","g":1},{"t":2002.54,"v":0.49,"s":"PRAVÁ DRENÁŽ","g":1},{"t":2002.57,"v":0.36,"s":"PRAVÁ DRENÁŽ","g":1},{"t":2002.61,"v":0.51,"s":"PRAVÁ DRENÁŽ","g":1},{"t":2002.64,"v":0.38,"s":"PRAVÁ DRENÁŽ","g":1},{"t":2002.70,"v":0.46,"s":"PRAVÁ DRENÁŽ","g":1},{"t":2002.73,"v":0.37,"s":"PRAVÁ DRENÁŽ","g":1},{"t":2002.77,"v":0.45,"s":"PRAVÁ DRENÁŽ","g":1},{"t":2002.82,"v":0.50,"s":"PRAVÁ DRENÁŽ","g":1},{"t":2002.86,"v":0.43,"s":"PRAVÁ DRENÁŽ","g":1},{"t":2002.89,"v":0.44,"s":"PRAVÁ DRENÁŽ","g":1},{"t":2002.93,"v":0.38,"s":"PRAVÁ DRENÁŽ","g":1},{"t":2002.96,"v":0.34,"s":"PRAVÁ DRENÁŽ","g":1},{"t":2003.02,"v":0.42,"s":"PRAVÁ DRENÁŽ","g":1},{"t":2003.05,"v":0.31,"s":"PRAVÁ DRENÁŽ","g":1},{"t":2003.08,"v":0.38,"s":"PRAVÁ DRENÁŽ","g":1},{"t":2003.14,"v":0.26,"s":"PRAVÁ DRENÁŽ","g":1},{"t":2003.17,"v":0.32,"s":"PRAVÁ DRENÁŽ","g":1},{"t":2003.22,"v":0.24,"s":"PRAVÁ DRENÁŽ","g":1},{"t":2003.26,"v":0.34,"s":"PRAVÁ DRENÁŽ","g":1},{"t":2003.31,"v":0.26,"s":"PRAVÁ DRENÁŽ","g":1},{"t":2003.37,"v":0.31,"s":"PRAVÁ DRENÁŽ","g":1},{"t":2003.42,"v":0.26,"s":"PRAVÁ DRENÁŽ","g":1},{"t":2003.47,"v":0.30,"s":"PRAVÁ DRENÁŽ","g":1},{"t":2003.52,"v":0.33,"s":"PRAVÁ DRENÁŽ","g":1},{"t":2003.58,"v":0.27,"s":"PRAVÁ DRENÁŽ","g":1},{"t":2003.61,"v":0.34,"s":"PRAVÁ DRENÁŽ","g":1},{"t":2003.67,"v":0.27,"s":"PRAVÁ DRENÁŽ","g":1},{"t":2003.72,"v":0.24,"s":"PRAVÁ DRENÁŽ","g":1},{"t":2003.79,"v":0.21,"s":"PRAVÁ DRENÁŽ","g":1},{"t":2003.84,"v":0.19,"s":"PRAVÁ DRENÁŽ","g":1},{"t":2003.88,"v":0.16,"s":"PRAVÁ DRENÁŽ","g":1},{"t":2003.91,"v":0.21,"s":"PRAVÁ DRENÁŽ","g":1},{"t":2003.96,"v":0.12,"s":"PRAVÁ DRENÁŽ","g":1},{"t":2004.00,"v":0.16,"s":"PRAVÁ DRENÁŽ","g":1},{"t":2004.04,"v":0.10,"s":"PRAVÁ DRENÁŽ","g":1},{"t":2004.07,"v":0.20,"s":"PRAVÁ DRENÁŽ","g":1},{"t":2004.11,"v":0.14,"s":"PRAVÁ DRENÁŽ","g":1},{"t":2004.16,"v":0.21,"s":"PRAVÁ DRENÁŽ","g":1},{"t":2004.21,"v":0.17,"s":"PRAVÁ DRENÁŽ","g":1},{"t":2004.26,"v":0.21,"s":"PRAVÁ DRENÁŽ","g":1},{"t":2004.32,"v":0.16,"s":"PRAVÁ DRENÁŽ","g":1},{"t":2004.37,"v":0.20,"s":"PRAVÁ DRENÁŽ","g":1},{"t":2004.42,"v":0.18,"s":"PRAVÁ DRENÁŽ","g":1},{"t":2004.48,"v":0.23,"s":"PRAVÁ DRENÁŽ","g":1},{"t":2004.53,"v":0.21,"s":"PRAVÁ DRENÁŽ","g":1},{"t":2004.58,"v":0.25,"s":"PRAVÁ DRENÁŽ","g":1},{"t":2004.64,"v":0.22,"s":"PRAVÁ DRENÁŽ","g":1},{"t":2004.69,"v":0.27,"s":"PRAVÁ DRENÁŽ","g":1},{"t":2004.74,"v":0.20,"s":"PRAVÁ DRENÁŽ","g":1},{"t":2004.78,"v":0.24,"s":"PRAVÁ DRENÁŽ","g":1},{"t":2004.81,"v":0.19,"s":"PRAVÁ DRENÁŽ","g":1},{"t":2004.85,"v":0.22,"s":"PRAVÁ DRENÁŽ","g":1},{"t":2004.88,"v":0.12,"s":"PRAVÁ DRENÁŽ","g":1},{"t":2004.92,"v":0.05,"s":"PRAVÁ DRENÁŽ","g":1},{"t":2004.95,"v":0.01,"s":"PRAVÁ DRENÁŽ","g":1},{"t":2004.99,"v":0.05,"s":"PRAVÁ DRENÁŽ","g":1},{"t":2005.02,"v":0.01,"s":"PRAVÁ DRENÁŽ","g":1},{"t":2005.06,"v":0.08,"s":"PRAVÁ DRENÁŽ","g":1},{"t":2005.09,"v":0.03,"s":"PRAVÁ DRENÁŽ","g":1},{"t":2005.13,"v":0.14,"s":"PRAVÁ DRENÁŽ","g":1},{"t":2005.16,"v":0.02,"s":"PRAVÁ DRENÁŽ","g":1},{"t":2005.20,"v":0.13,"s":"PRAVÁ DRENÁŽ","g":1},{"t":2005.23,"v":0.01,"s":"PRAVÁ DRENÁŽ","g":1},{"t":2005.27,"v":0.07,"s":"PRAVÁ DRENÁŽ","g":1},{"t":2005.30,"v":0.02,"s":"PRAVÁ DRENÁŽ","g":1},{"t":2005.34,"v":0.10,"s":"PRAVÁ DRENÁŽ","g":1},{"t":2005.38,"v":0.03,"s":"PRAVÁ DRENÁŽ","g":1},{"t":2005.41,"v":0.07,"s":"PRAVÁ DRENÁŽ","g":1},{"t":2005.45,"v":0.01,"s":"PRAVÁ DRENÁŽ","g":1},{"t":2005.48,"v":0.05,"s":"PRAVÁ DRENÁŽ","g":1},{"t":2005.52,"v":0.16,"s":"PRAVÁ DRENÁŽ","g":1},{"t":2005.55,"v":0.12,"s":"PRAVÁ DRENÁŽ","g":1},{"t":2005.59,"v":0.17,"s":"PRAVÁ DRENÁŽ","g":1},{"t":2005.62,"v":0.11,"s":"PRAVÁ DRENÁŽ","g":1},{"t":2005.68,"v":0.19,"s":"PRAVÁ DRENÁŽ","g":1},{"t":2005.71,"v":0.12,"s":"PRAVÁ DRENÁŽ","g":1},{"t":2005.75,"v":0.08,"s":"PRAVÁ DRENÁŽ","g":1},{"t":2005.78,"v":0.03,"s":"PRAVÁ DRENÁŽ","g":1},{"t":2005.82,"v":0.08,"s":"PRAVÁ DRENÁŽ","g":1},{"t":2005.85,"v":0.02,"s":"PRAVÁ DRENÁŽ","g":1},{"t":2005.89,"v":0.05,"s":"PRAVÁ DRENÁŽ","g":1},{"t":2005.92,"v":0.01,"s":"PRAVÁ DRENÁŽ","g":1},{"t":2005.97,"v":0.01,"s":"PRAVÁ DRENÁŽ","g":1},
      {"t":2023.60,"v":0.05,"s":"PRAVÁ DRENÁŽ","g":2},{"t":2023.61,"v":0.02,"s":"PRAVÁ DRENÁŽ","g":2},{"t":2023.65,"v":0.06,"s":"PRAVÁ DRENÁŽ","g":2},{"t":2023.69,"v":0.04,"s":"PRAVÁ DRENÁŽ","g":2},{"t":2023.72,"v":0.07,"s":"PRAVÁ DRENÁŽ","g":2},{"t":2023.76,"v":0.03,"s":"PRAVÁ DRENÁŽ","g":2},{"t":2023.79,"v":0.06,"s":"PRAVÁ DRENÁŽ","g":2},{"t":2023.83,"v":0.12,"s":"PRAVÁ DRENÁŽ","g":2},{"t":2023.86,"v":0.05,"s":"PRAVÁ DRENÁŽ","g":2},{"t":2023.90,"v":0.10,"s":"PRAVÁ DRENÁŽ","g":2},{"t":2023.92,"v":0.16,"s":"PRAVÁ DRENÁŽ","g":2},{"t":2023.95,"v":0.11,"s":"PRAVÁ DRENÁŽ","g":2},{"t":2023.97,"v":0.19,"s":"PRAVÁ DRENÁŽ","g":2},{"t":2024.00,"v":0.13,"s":"PRAVÁ DRENÁŽ","g":2},{"t":2024.04,"v":0.17,"s":"PRAVÁ DRENÁŽ","g":2},{"t":2024.07,"v":0.20,"s":"PRAVÁ DRENÁŽ","g":2},{"t":2024.11,"v":0.15,"s":"PRAVÁ DRENÁŽ","g":2},{"t":2024.14,"v":0.19,"s":"PRAVÁ DRENÁŽ","g":2},{"t":2024.18,"v":0.14,"s":"PRAVÁ DRENÁŽ","g":2},{"t":2024.21,"v":0.18,"s":"PRAVÁ DRENÁŽ","g":2},{"t":2024.23,"v":0.11,"s":"PRAVÁ DRENÁŽ","g":2},{"t":2024.27,"v":0.17,"s":"PRAVÁ DRENÁŽ","g":2},{"t":2024.28,"v":0.14,"s":"PRAVÁ DRENÁŽ","g":2}
    ],
    "redtxt": [
      {"t": 2007.34, "v": 0.0558, "label": "USTÁNÍ PRŮSAKU"},
      {"t": 2007.34, "v": 0.0256, "label": "PROSINEC 2005 – SRPEN 2023"}
    ],
    "greentxt": [
      {"t": 2021.65, "v": 0.0307, "label": "PROPLÁCHNUTÍ PATNÍ"},
      {"t": 2022.09, "v": 0.0307, "label": "DRENÁŽE – LISTOPAD 2022"}
    ],
    "flush": [
      {"t": 2022.83, "v": 0, "v2": 0.251}
    ]
  },
  "encoding": {
    "x": {
      "field": "t",
      "type": "quantitative",
      "scale": {"domain": [2000, 2024.96], "nice": false, "zero": false},
      "axis": {
        "title": "DATUM",
        "values": [2000,2001,2002,2003,2004,2005,2006,2007,2008,2009,2010,2011,2012,2013,2014,2015,2016,2017,2018,2019,2020,2021,2022,2023,2024],
        "format": "d",
        "labelAngle": 270,
        "labelFontSize": 24,
        "labelPadding": 14,
        "labelFlush": false,
        "labelOverlap": false,
        "titleX": 784,
        "titleY": 102,
        "titleBaseline": "alphabetic",
        "titleAlign": "center"
      }
    },
    "y": {
      "field": "v",
      "type": "quantitative",
      "scale": {"domain": [0, 0.7], "nice": false},
      "axis": {
        "title": "PRŮSAK [l.s⁻¹]",
        "values": [0, 0.1, 0.2, 0.3, 0.4, 0.5, 0.6, 0.7],
        "labelExpr": "datum.value == 0 ? '0' : format(datum.value, '.1f')",
        "labelPadding": 18,
        "labelFlush": false,
        "titleX": -92,
        "titleY": 489,
        "titleAlign": "center",
        "titleBaseline": "middle"
      }
    }
  },
  "layer": [
    {
      "data": {"name": "lev"},
      "mark": {"type": "line", "strokeWidth": 3.5, "interpolate": "linear"},
      "encoding": {
        "color": {
          "field": "s",
          "type": "nominal",
          "scale": {"domain": ["LEVÁ DRENÁŽ", "PRAVÁ DRENÁŽ"], "range": ["#4472C4", "#FF0000"]},
          "legend": {
            "title": null,
            "orient": "none",
            "legendX": 1269,
            "legendY": 26,
            "padding": 2,
            "fillColor": "white",
            "symbolType": "stroke",
            "symbolSize": 2800,
            "symbolStrokeWidth": 3,
            "labelFont": "DejaVu Serif",
            "labelFontSize": 22,
            "labelLimit": 400,
            "labelColor": "#262626",
            "labelOffset": 3,
            "rowPadding": 6
          }
        }
      }
    },
    {
      "data": {"name": "pra"},
      "mark": {"type": "line", "strokeWidth": 4, "interpolate": "linear"},
      "encoding": {
        "detail": {"field": "g", "type": "nominal"},
        "color": {"field": "s", "type": "nominal"}
      }
    },
    {
      "data": {"name": "flush"},
      "mark": {"type": "rule", "color": "#63c384", "strokeWidth": 4, "strokeCap": "round"},
      "encoding": {
        "y2": {"field": "v2"}
      }
    },
    {
      "data": {"name": "redtxt"},
      "mark": {"type": "text", "font": "Lato", "fontWeight": "bold", "fontSize": 30, "color": "#FF0000", "align": "left", "baseline": "alphabetic"},
      "encoding": {
        "text": {"field": "label"}
      }
    },
    {
      "data": {"name": "greentxt"},
      "mark": {"type": "text", "font": "Lato", "fontWeight": "bold", "fontSize": 23, "color": "#00B050", "align": "left", "baseline": "alphabetic", "angle": 270},
      "encoding": {
        "text": {"field": "label"}
      }
    }
  ]
}
